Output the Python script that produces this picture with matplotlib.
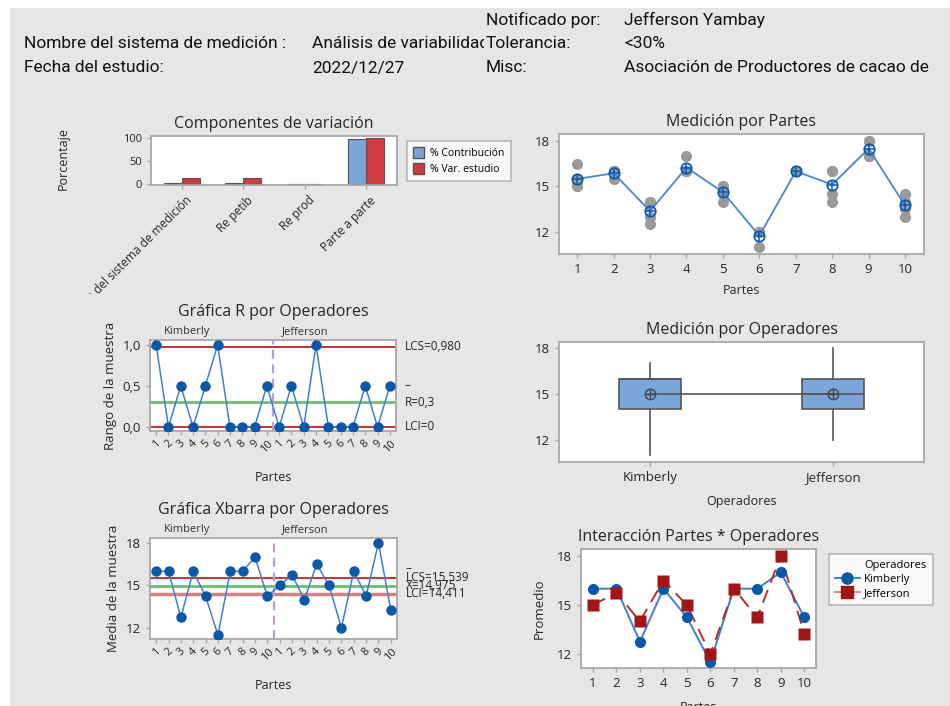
import numpy as np
import matplotlib
matplotlib.use("Agg")
import matplotlib.pyplot as plt
from matplotlib import font_manager
from matplotlib.patches import Rectangle, Patch
from matplotlib.lines import Line2D
from matplotlib.transforms import Bbox, TransformedBbox, blended_transform_factory as btf

# ---------------- data ----------------
parts = list(range(1, 11))
operators = ["Kimberly", "Jefferson"]
kim_t1 = [15.5, 16, 12.5, 16, 14.0, 11, 16, 16, 17, 14.0]
kim_t2 = [16.5, 16, 13.0, 16, 14.5, 12, 16, 16, 17, 14.5]
jef_t1 = [15.0, 15.5, 14, 16, 15, 12, 16, 14.0, 18, 13.0]
jef_t2 = [15.0, 16.0, 14, 17, 15, 12, 16, 14.5, 18, 13.5]

comp_labels = ["Varianza del sistema de medición", "Re petib", "Re prod", "Parte a parte"]
pct_contrib = [1.6, 1.6, 0.0, 98.4]
pct_study = [12.6, 12.6, 0.3, 99.2]

header_rows = [
    ("", "", "Notificado por:", "Jefferson Yambay"),
    ("Nombre del sistema de medición :", "Análisis de variabilidad", "Tolerancia:", "<30%"),
    ("Fecha del estudio:", "2022/12/27", "Misc:", "Asociación de Productores de cacao de"),
]

# ---------------- derived stats ----------------
kim = np.array([kim_t1, kim_t2])
jef = np.array([jef_t1, jef_t2])
kim_mean, jef_mean = kim.mean(0), jef.mean(0)
kim_rng, jef_rng = np.ptp(kim, 0), np.ptp(jef, 0)
xbar_all = np.concatenate([kim_mean, jef_mean])
r_all = np.concatenate([kim_rng, jef_rng])
rbar = r_all.mean()
xbarbar = xbar_all.mean()
ucl_r, lcl_r = 3.267 * rbar, 0.0
ucl_x, lcl_x = xbarbar + 1.880 * rbar, xbarbar - 1.880 * rbar
part_vals = np.vstack([kim, jef])
part_mean = part_vals.mean(0)

def fmt(v, d):
    return f"{v:.{d}f}".replace(".", ",")

# ---------------- figure ----------------
W, H = 950, 706
fig = plt.figure(figsize=(W / 100, H / 100), dpi=100, facecolor="white")
fig.patches.append(Rectangle((10 / W, 0), 1, 1 - 8 / H, transform=fig.transFigure,
                             facecolor="#e6e6e6", edgecolor="none", zorder=-10))

names = {f.name for f in font_manager.fontManager.ttflist}
hdr_font = "Liberation Sans Narrow" if "Liberation Sans Narrow" in names else "Roboto"
CF = "Open Sans" if "Open Sans" in names else "DejaVu Sans"
plt.rcParams["font.family"] = [CF, "DejaVu Sans"]

TXT = "#262626"
SP = "#a8a8a8"
TW = "medium"

def fx(px):
    return px / W

def fy(py):
    return 1 - py / H

# header
cols = [24, 312, 486, 624]
rows_y = [20, 44, 68]
for r, row in zip(rows_y, header_rows):
    for c, s in zip(cols, row):
        if not s:
            continue
        t = fig.text(fx(c), fy(r), s, ha="left", va="center", fontsize=12.5,
                     family=[hdr_font, "DejaVu Sans"], color="#111111")
        if c == 312:
            t.set_clip_box(TransformedBbox(Bbox([[0, 0], [484 / W, 1]]), fig.transFigure))
            t.set_clip_on(True)

def px_axes(l, t, r, b):
    ax = fig.add_axes([fx(l), fy(b), (r - l) / W, (b - t) / H])
    ax.set_facecolor("white")
    for s in ax.spines.values():
        s.set_color(SP)
        s.set_linewidth(1.3)
    ax.tick_params(colors=SP, labelcolor=TXT, labelsize=9.5, length=3, width=1)
    return ax

# ---------- Componentes de variación ----------
ax = px_axes(151, 136, 397, 185)
x = np.arange(len(comp_labels))
bw = 0.29
ax.bar(x - bw / 2, pct_contrib, bw, color="#7aa6da", edgecolor="#555555", linewidth=0.8)
ax.bar(x + bw / 2, pct_study, bw, color="#d03a3a", edgecolor="#555555", linewidth=0.8)
ax.set_xlim(-0.5, 3.5)
ax.set_ylim(-2, 104)
ax.set_yticks([0, 50, 100])
ax.set_xticks(x)
ax.set_xticklabels([""] * len(x))
ax.tick_params(labelsize=8)
ax.set_title("Componentes de variación", fontsize=11.5, color=TXT, pad=6, fontweight=TW)
fig.text(fx(63), fy(158), "Porcentaje", rotation=90, ha="center", va="center",
         fontsize=9, color=TXT)
clipbb = TransformedBbox(Bbox([[0, fy(294)], [1, 1]]), fig.transFigure)
for xi, lab in zip(x, comp_labels):
    t = ax.text(xi + 0.05, -0.18, lab, transform=btf(ax.transData, ax.transAxes),
                rotation=45, ha="right", va="top", rotation_mode="anchor",
                fontsize=8.5, color=TXT)
    t.set_clip_path(None)
    t.set_clip_box(clipbb)
    t.set_clip_on(True)
leg = fig.legend(handles=[Patch(facecolor="#7aa6da", edgecolor="#555555"),
                          Patch(facecolor="#d03a3a", edgecolor="#555555")],
                 labels=["% Contribución", "% Var. estudio"],
                 loc="upper left", bbox_to_anchor=(fx(402), fy(136)),
                 fontsize=7.5, frameon=True, fancybox=False, handlelength=1.0,
                 handleheight=1.2, borderpad=0.6, labelspacing=0.35, handletextpad=0.6)
leg.get_frame().set_edgecolor(SP)
leg.get_frame().set_linewidth(1.2)

# ---------- Medición por Partes ----------
ax = px_axes(559, 134, 924, 254)
for p, vals in zip(parts, part_vals.T):
    ax.plot([p] * len(vals), vals, "o", color="#9a9a9a", ms=8, mec="none", zorder=2)
ax.plot(parts, part_mean, "-", color="#4a86cc", lw=1.3, zorder=3)
ax.plot(parts, part_mean, "o", mfc="none", mec="#0c5bb0", ms=7.5, mew=1.3, zorder=4)
ax.plot(parts, part_mean, "+", color="#0c5bb0", ms=7.5, mew=1.1, zorder=4)
ax.set_xlim(0.5, 10.52)
ax.set_ylim(10.55, 18.46)
ax.set_xticks(parts)
ax.set_yticks([12, 15, 18])
ax.set_title("Medición por Partes", fontsize=11.5, color=TXT, pad=6, fontweight=TW)
ax.set_xlabel("Partes", fontsize=9, color=TXT, labelpad=6)

# ---------- control chart helper ----------
def control_panel(l, t, r, b, vals, center, ucl, lcl, ylim, yticks, ytl, title, ylabel):
    ax = px_axes(l, t, r, b)
    n = len(vals)
    xs = np.arange(1, n + 1)
    ax.axhline(ucl, color="#c23b3b", lw=1.5, zorder=1)
    ax.axhline(lcl, color="#c23b3b" if lcl == 0 else "#d98080", lw=1.5 if lcl == 0 else 2.5, zorder=1)
    ax.axhline(center, color="#5cb85c", lw=2.0, zorder=1, alpha=0.9)
    ax.axvline(n / 2 + 0.5, color="#b79be0", lw=1.6, ls=(0, (4, 2.5)), zorder=1)
    ax.plot(xs, vals, "-", color="#3f80cc", lw=1.1, zorder=2)
    ax.plot(xs, vals, "o", color="#0c58a8", ms=7.5, mec="none", zorder=3)
    ax.set_xlim(0.5, n + 0.5)
    ax.set_ylim(*ylim)
    ax.set_yticks(yticks)
    ax.set_yticklabels(ytl)
    ax.set_xticks(xs)
    ax.set_xticklabels([str(p) for p in parts + parts], rotation=45, fontsize=8,
                       ha="center", va="top")
    ax.tick_params(axis="x", pad=2)
    ax.set_title(title, fontsize=11.5, color=TXT, pad=17, fontweight=TW)
    ax.set_ylabel(ylabel, fontsize=9.5, color=TXT, labelpad=4)
    ax.set_xlabel("Partes", fontsize=9, color=TXT, labelpad=12)
    tr = btf(ax.transData, ax.transAxes)
    ax.text(1.6, 1.03, operators[0], transform=tr, ha="left", va="bottom", fontsize=8, color="#333333")
    ax.text(11.2, 1.03, operators[1], transform=tr, ha="left", va="bottom", fontsize=8, color="#333333")
    return ax

# ---------- R chart ----------
ax = control_panel(150, 340, 396, 431, r_all, rbar, ucl_r, lcl_r, (-0.05, 1.06),
                   [0, 0.5, 1.0], ["0,0", "0,5", "1,0"], "Gráfica R por Operadores",
                   "Rango de la muestra")
tr = btf(ax.transAxes, ax.transData)
ax.text(1.035, ucl_r, "LCS=" + fmt(ucl_r, 3), transform=tr, ha="left", va="center", fontsize=8.5, color=TXT)
ax.text(1.035, rbar, "R=" + fmt(rbar, 1), transform=tr, ha="left", va="center", fontsize=8.5, color=TXT)
ax.annotate("–", (1.035, rbar), xycoords=tr, xytext=(0, 12), textcoords="offset points",
            ha="left", va="center", fontsize=8.5, color=TXT)
ax.text(1.035, lcl_r, "LCI=" + fmt(lcl_r, 0), transform=tr, ha="left", va="center", fontsize=8.5, color=TXT)

# ---------- Xbar chart ----------
ax = control_panel(150, 538, 397, 639, xbar_all, xbarbar, ucl_x, lcl_x, (11.22, 18.35),
                   [12, 15, 18], ["12", "15", "18"], "Gráfica Xbarra por Operadores",
                   "Media de la muestra")
tr = btf(ax.transAxes, ax.transData)
ax.text(1.035, ucl_x, "LCS=" + fmt(ucl_x, 3), transform=tr, ha="left", va="center", fontsize=8.5, color=TXT)
ax.text(1.035, xbarbar, "X=" + fmt(xbarbar, 3), transform=tr, ha="left", va="center", fontsize=8.5, color=TXT)
ax.annotate("–", (1.035, ucl_x), xycoords=tr, xytext=(0, 7), textcoords="offset points",
            ha="left", va="center", fontsize=8.5, color=TXT)
ax.text(1.035, lcl_x, "LCI=" + fmt(lcl_x, 3), transform=tr, ha="left", va="center", fontsize=8.5, color=TXT)

# ---------- Medición por Operadores ----------
ax = px_axes(559, 342, 924, 462)
op_data = [kim.ravel(), jef.ravel()]
bp = ax.boxplot(op_data, positions=[1, 2], widths=0.34, patch_artist=True, showfliers=False,
                showcaps=False, whis=(0, 100),
                boxprops=dict(facecolor="#7aa6da", edgecolor="#555555", linewidth=1.2),
                whiskerprops=dict(color="#555555", linewidth=1.2),
                medianprops=dict(color="#555555", linewidth=1.2))
op_means = [d.mean() for d in op_data]
ax.plot([1, 2], op_means, "-", color="#555555", lw=1.2, zorder=3)
ax.plot([1, 2], op_means, "o", mfc="none", mec="#444444", ms=7.5, mew=1.0, zorder=4)
ax.plot([1, 2], op_means, "+", color="#444444", ms=7.5, mew=1.0, zorder=4)
ax.set_xlim(0.5, 2.5)
ax.set_ylim(10.56, 18.39)
ax.set_yticks([12, 15, 18])
ax.set_xticks([1, 2])
ax.set_xticklabels(operators)
ax.set_title("Medición por Operadores", fontsize=11.5, color=TXT, pad=6, fontweight=TW)
ax.set_xlabel("Operadores", fontsize=9, color=TXT, labelpad=8)

# ---------- Interacción ----------
ax = px_axes(581, 549, 816, 668)
ax.plot(parts, kim_mean, "-", color="#3f80cc", lw=1.4, zorder=2)
ax.plot(parts, kim_mean, "o", color="#0c58a8", ms=8, mec="none", zorder=3)
ax.plot(parts, jef_mean, "-", color="#b23030", lw=1.4, ls=(0, (7, 4)), zorder=2)
ax.plot(parts, jef_mean, "s", color="#a01515", ms=8, mec="none", zorder=4)
ax.set_xlim(0.49, 10.5)
ax.set_ylim(11.14, 18.43)
ax.set_xticks(parts)
ax.set_yticks([12, 15, 18])
ax.set_title("Interacción Partes * Operadores", fontsize=11.5, color=TXT, pad=6, fontweight=TW)
ax.set_ylabel("Promedio", fontsize=9.5, color=TXT, labelpad=8)
ax.set_xlabel("Partes", fontsize=9, color=TXT, labelpad=8)
h_title = Line2D([], [], alpha=0)
h_kim = Line2D([], [], color="#3f80cc", lw=1.4, marker="o", mfc="#0c58a8", mec="#0c58a8", ms=8)
h_jef = Line2D([], [], color="#d48a8a", lw=1.4, marker="s", mfc="#a01515", mec="#a01515", ms=8)
leg = fig.legend(handles=[h_title, h_kim, h_jef], labels=["Operadores"] + operators,
                 loc="upper left", bbox_to_anchor=(fx(823), fy(548)), fontsize=8,
                 frameon=True, fancybox=False, handlelength=2.2, borderpad=0.6,
                 labelspacing=0.25, handletextpad=0.4)
leg.get_frame().set_edgecolor(SP)
leg.get_frame().set_linewidth(1.2)

fig.savefig("out.png", dpi=100, facecolor=fig.get_facecolor())
